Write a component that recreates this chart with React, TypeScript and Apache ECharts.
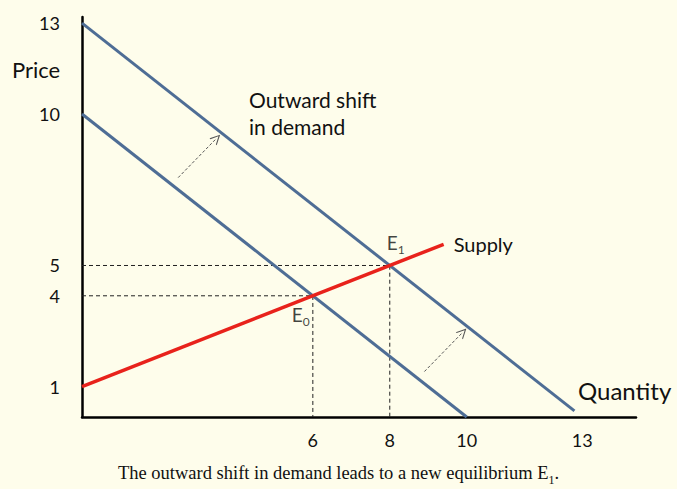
import React, { useEffect, useRef } from "react";
import * as echarts from "echarts";

// ---- data ----
const xTickValues = [6, 8, 10, 13];
const yTickValues = [1, 4, 5, 10, 13];
const demandOriginal: number[][] = [[0, 10], [10, 0]];
const demandShifted: number[][] = [[0, 13], [12.8, 0.2]];
const supplyCurve: number[][] = [[0, 1], [9.4, 5.7]];
const equilibriumE0: number[] = [6, 4];
const equilibriumE1: number[] = [8, 5];
const guideE0: number[][] = [[0, 4], [6, 4], [6, 0]];
const guideE1: number[][] = [[0, 5], [8, 5], [8, 0]];
const shiftArrows: number[][][] = [
  [[2.5, 7.9], [3.5, 9.2]],
  [[8.9, 1.5], [9.9, 2.8]],
];

const BLUE = "#4e6d95";
const RED = "#e8221b";
const BG = "#fefdeb";
const FONT = "Lato";

export default function App() {
  const ref = useRef<HTMLDivElement>(null);
  useEffect(() => {
    if (!ref.current) return;
    const chart = echarts.init(ref.current, null, { renderer: "svg" });
    const subRich = {
      e: { fontFamily: FONT, fontSize: 19, color: "#111", lineHeight: 22 },
      s: { fontFamily: FONT, fontSize: 12, color: "#111", verticalAlign: "bottom", lineHeight: 26 },
    };
    chart.setOption({
      animation: false,
      backgroundColor: BG,
      grid: { left: 82, top: 17, width: 554, height: 400, containLabel: false },
      xAxis: {
        type: "value",
        min: 0,
        max: 14.4,
        axisLine: { show: true, onZero: false, lineStyle: { color: "#000", width: 2.5 } },
        axisTick: { show: false },
        splitLine: { show: false },
        axisLabel: {
          customValues: xTickValues,
          margin: 14,
          fontFamily: FONT,
          fontSize: 18,
          color: "#111",
        },
      },
      yAxis: {
        type: "value",
        min: 0,
        max: 13.2,
        axisLine: { show: true, onZero: false, lineStyle: { color: "#000", width: 2.5 } },
        axisTick: { show: false },
        splitLine: { show: false },
        axisLabel: {
          customValues: yTickValues,
          margin: 22,
          fontFamily: FONT,
          fontSize: 18,
          color: "#111",
        },
      },
      graphic: [
        { type: "text", left: 12, top: 58, style: { text: "Price", fontFamily: FONT, fontSize: 22, fill: "#111" } },
        { type: "text", left: 578, top: 378, style: { text: "Quantity", fontFamily: FONT, fontSize: 24, fill: "#111" } },
        {
          type: "text",
          left: 249,
          top: 86,
          style: { text: "Outward shift\nin demand", fontFamily: FONT, fontSize: 21, lineHeight: 27, fill: "#111" },
        },
        {
          type: "text",
          left: "center",
          top: 463,
          style: {
            text: "{m|The outward shift in demand leads to a new equilibrium E}{s|1}{m|.}",
            rich: {
              m: { fontFamily: "Liberation Serif", fontSize: 18.5, fill: "#111", lineHeight: 22 },
              s: { fontFamily: "Liberation Serif", fontSize: 12, fill: "#111", verticalAlign: "bottom", lineHeight: 26 },
            },
          },
        },
      ],
      series: [
        {
          type: "line",
          name: "guideE0",
          data: guideE0,
          symbol: "none",
          lineStyle: { color: "#222", width: 1, type: [4, 3] },
          silent: true,
        },
        {
          type: "line",
          name: "guideE1",
          data: guideE1,
          symbol: "none",
          lineStyle: { color: "#222", width: 1, type: [4, 3] },
          silent: true,
        },
        {
          type: "line",
          name: "Demand",
          data: demandOriginal,
          symbol: "none",
          lineStyle: { color: BLUE, width: 3 },
        },
        {
          type: "line",
          name: "Demand shifted",
          data: demandShifted,
          symbol: "none",
          lineStyle: { color: BLUE, width: 3 },
        },
        {
          type: "line",
          name: "Supply",
          data: supplyCurve,
          symbol: "none",
          lineStyle: { color: RED, width: 3.5 },
          endLabel: {
            show: true,
            formatter: "Supply",
            distance: 10,
            fontFamily: FONT,
            fontSize: 20,
            color: "#111",
          },
          markLine: {
            silent: true,
            symbol: ["none", "path://M5,0 L10,10 L8.8,10 L5,2.4 L1.2,10 L0,10 Z"],
            symbolSize: [10, 10],
            lineStyle: { color: "#555", width: 1, type: [3, 2] },
            label: { show: false },
            data: shiftArrows.map((a) => [{ coord: a[0] }, { coord: a[1] }]),
          },
        },
        {
          type: "scatter",
          name: "E1",
          data: [equilibriumE1],
          symbolSize: 0,
          label: {
            show: true,
            position: "top",
            distance: 10,
            offset: [6, 0],
            formatter: "{e|E}{s|1}",
            rich: subRich,
          },
        },
        {
          type: "scatter",
          name: "E0",
          data: [equilibriumE0],
          symbolSize: 0,
          label: {
            show: true,
            position: "bottom",
            distance: 6,
            offset: [-12, 0],
            formatter: "{e|E}{s|0}",
            rich: subRich,
          },
        },
      ],
    });
    return () => chart.dispose();
  }, []);
  return (
    <div
      ref={ref}
      style={{ position: "absolute", left: 0, top: 0, width: 677, height: 489 }}
    />
  );
}
